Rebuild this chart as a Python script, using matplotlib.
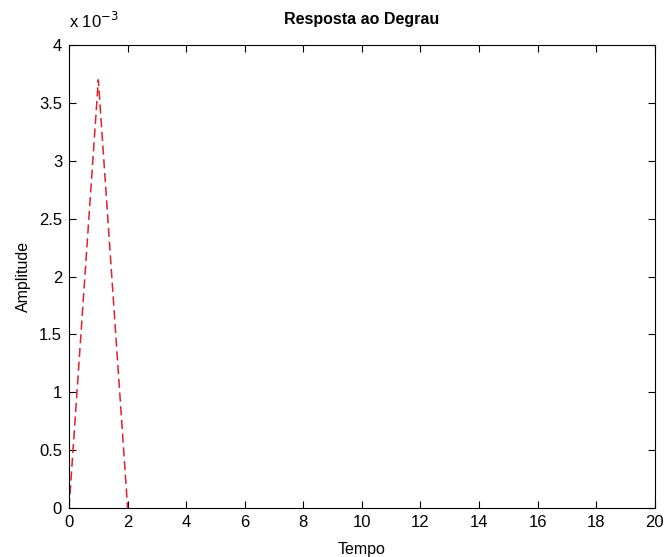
import matplotlib
matplotlib.use('Agg')
import matplotlib.pyplot as plt
from matplotlib.ticker import FuncFormatter

# dados da resposta
tempo = [0, 1, 2]
amplitude = [0.0, 3.7e-3, 0.0]

plt.rcParams['font.family'] = ['Liberation Sans', 'DejaVu Sans']

fig = plt.figure(figsize=(6.64, 5.57), dpi=100)
ax = fig.add_axes([0.104, 0.088, 0.882, 0.831])

ax.plot(tempo, amplitude, color='#e0202a', linestyle=(0, (6, 3)), linewidth=1.1)

ax.set_xlim(0, 20)
ax.set_ylim(0, 4e-3)
ax.set_xticks(range(0, 21, 2))
ax.set_yticks([i * 0.5e-3 for i in range(9)])
ax.yaxis.set_major_formatter(FuncFormatter(lambda v, p: ('%g' % round(v * 1e3, 3))))

ax.tick_params(direction='in', top=True, right=True, labelsize=12, length=5, width=0.8, pad=5)
for s in ax.spines.values():
    s.set_linewidth(0.8)

ax.set_xlabel('Tempo', fontsize=11.5, labelpad=9)
ax.set_ylabel('Amplitude', fontsize=11.5, labelpad=6)
ax.set_title('Resposta ao Degrau', fontsize=11.5, fontweight='bold', pad=15)
ax.text(0.0, 1.03, r'x 10$^{-3}$', transform=ax.transAxes, fontsize=12, ha='left', va='bottom')

fig.savefig('out.png', dpi=100, facecolor='white')
